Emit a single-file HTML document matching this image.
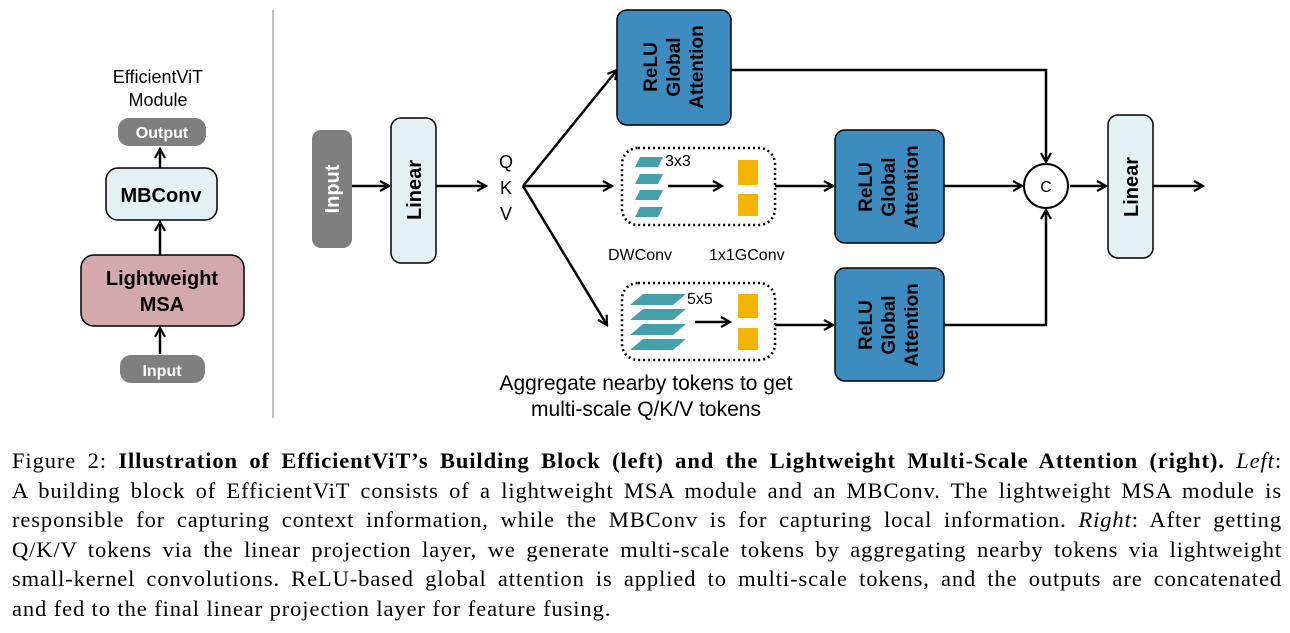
<!DOCTYPE html><html><head><meta charset="utf-8"><style>
body{margin:0;background:#fff;width:1290px;height:633px;overflow:hidden;position:relative}
svg{position:absolute;left:0;top:0}
.cap{position:absolute;left:12px;top:446px;width:1270px;font-family:"Liberation Serif",serif;font-size:22.5px;letter-spacing:0.9px;line-height:29.5px;color:#000}
.cap div{text-align:justify;text-align-last:justify;white-space:nowrap}
.cap div.l{text-align-last:left}
</style></head><body>
<svg width="1290" height="440" viewBox="0 0 1290 440" font-family="Liberation Sans, sans-serif">
<defs><marker id="a" markerWidth="12" markerHeight="12" refX="10" refY="6" orient="auto" markerUnits="userSpaceOnUse"><path d="M1,1 L10,6 L1,11" fill="none" stroke="#000" stroke-width="2.2"/></marker></defs>
<g stroke="#000" stroke-width="2.5" fill="none" marker-end="url(#a)">
<line x1="160" y1="168" x2="160" y2="149"/><line x1="160" y1="255" x2="160" y2="222"/><line x1="160" y1="354" x2="160" y2="328"/>
<line x1="352" y1="186" x2="389" y2="186"/><line x1="436" y1="186" x2="486" y2="186"/>
<line x1="523" y1="186" x2="617" y2="70"/><line x1="523" y1="186" x2="612" y2="186"/><line x1="523" y1="186" x2="607" y2="325"/>
<polyline points="731,70 1046,70 1046,162"/><polyline points="944,325 1046,325 1046,210"/>
<line x1="775" y1="186" x2="833" y2="186"/><line x1="775" y1="325" x2="833" y2="325"/>
<line x1="944" y1="186" x2="1022" y2="186"/><line x1="1070" y1="186" x2="1106" y2="186"/><line x1="1153" y1="186" x2="1203" y2="186"/>
<line x1="668" y1="186" x2="722" y2="186"/><line x1="695" y1="322" x2="730" y2="322"/>
</g>
<line x1="273" y1="10" x2="273" y2="418" stroke="#aaa" stroke-width="1.5"/>
<text x="158" y="83" font-size="18" text-anchor="middle">EfficientViT</text>
<text x="158" y="106" font-size="18" text-anchor="middle">Module</text>
<rect x="118" y="118" width="88" height="28" rx="11" fill="#7f7f7f"/>
<text x="162" y="138" font-size="16" font-weight="bold" fill="#fff" text-anchor="middle">Output</text>
<rect x="106" y="168" width="111" height="52" rx="12" fill="#e3f1f5" stroke="#000" stroke-width="1.5"/>
<text x="161" y="202" font-size="20" font-weight="bold" text-anchor="middle">MBConv</text>
<rect x="81" y="255" width="163" height="71" rx="13" fill="#d4a9ae" stroke="#000" stroke-width="1.5"/>
<text x="162" y="285" font-size="20" font-weight="bold" text-anchor="middle">Lightweight</text>
<text x="162" y="311" font-size="20" font-weight="bold" text-anchor="middle">MSA</text>
<rect x="120" y="355" width="85" height="28" rx="11" fill="#7f7f7f"/>
<text x="162" y="376" font-size="16" font-weight="bold" fill="#fff" text-anchor="middle">Input</text>
<rect x="312" y="130" width="40" height="118" rx="9" fill="#7f7f7f"/>
<text transform="translate(339,189) rotate(-90)" font-size="20" font-weight="bold" fill="#fff" text-anchor="middle">Input</text>
<rect x="391" y="118" width="45" height="145" rx="10" fill="#e3f1f5" stroke="#000" stroke-width="1.5"/>
<text transform="translate(421,190) rotate(-90)" font-size="20" font-weight="bold" text-anchor="middle">Linear</text>
<rect x="1108" y="115" width="45" height="143" rx="10" fill="#e3f1f5" stroke="#000" stroke-width="1.5"/>
<text transform="translate(1138,187) rotate(-90)" font-size="20" font-weight="bold" text-anchor="middle">Linear</text>
<text x="506" y="168" font-size="18" text-anchor="middle">Q</text>
<text x="506" y="194" font-size="18" text-anchor="middle">K</text>
<text x="506" y="220" font-size="18" text-anchor="middle">V</text>
<g fill="#3e8cbf" stroke="#000" stroke-width="1.5">
<rect x="617" y="10" width="114" height="115" rx="10"/><rect x="835" y="130" width="109" height="113" rx="10"/><rect x="835" y="268" width="109" height="113" rx="10"/></g>
<g font-size="19" font-weight="bold" text-anchor="middle">
<g transform="translate(674,67) rotate(-90)"><text x="0" y="-17">ReLU</text><text x="0" y="6">Global</text><text x="0" y="29">Attention</text></g>
<g transform="translate(889,187) rotate(-90)"><text x="0" y="-17">ReLU</text><text x="0" y="6">Global</text><text x="0" y="29">Attention</text></g>
<g transform="translate(889,325) rotate(-90)"><text x="0" y="-17">ReLU</text><text x="0" y="6">Global</text><text x="0" y="29">Attention</text></g></g>
<rect x="622" y="148" width="153" height="77" rx="16" fill="none" stroke="#000" stroke-width="2.5" stroke-dasharray="2,3"/>
<rect x="622" y="283" width="153" height="77" rx="16" fill="none" stroke="#000" stroke-width="2.5" stroke-dasharray="2,3"/>
<g fill="#46a0ac">
<polygon points="640,157 663,157 658,167 635,167"/><polygon points="640,174 663,174 658,184 635,184"/><polygon points="640,190 663,190 658,200 635,200"/><polygon points="640,207 663,207 658,217 635,217"/>
<polygon points="643,294 686,294 673,305 630,305"/><polygon points="643,309 686,309 673,320 630,320"/><polygon points="643,324 686,324 673,335 630,335"/><polygon points="643,339 686,339 673,350 630,350"/></g>
<g fill="#f5b400"><rect x="738" y="160" width="20" height="25"/><rect x="738" y="194" width="20" height="22"/><rect x="738" y="294" width="20" height="24"/><rect x="738" y="328" width="20" height="22"/></g>
<text x="665" y="166" font-size="16">3x3</text><text x="687" y="304" font-size="16">5x5</text>
<text x="608" y="260" font-size="16">DWConv</text><text x="709" y="260" font-size="16">1x1GConv</text>
<text x="646" y="390" font-size="21" text-anchor="middle">Aggregate nearby tokens to get</text>
<text x="646" y="416" font-size="21" text-anchor="middle">multi-scale Q/K/V tokens</text>
<circle cx="1046" cy="186" r="22" fill="#fff" stroke="#000" stroke-width="2"/>
<text x="1046" y="192" font-size="16" text-anchor="middle">C</text>
</svg>
<div class="cap">
<div>Figure 2: <b>Illustration of EfficientViT’s Building Block (left) and the Lightweight Multi-Scale Attention (right).</b> <i>Left</i>:</div>
<div>A building block of EfficientViT consists of a lightweight MSA module and an MBConv. The lightweight MSA module is</div>
<div>responsible for capturing context information, while the MBConv is for capturing local information. <i>Right</i>: After getting</div>
<div>Q/K/V tokens via the linear projection layer, we generate multi-scale tokens by aggregating nearby tokens via lightweight</div>
<div>small-kernel convolutions. ReLU-based global attention is applied to multi-scale tokens, and the outputs are concatenated</div>
<div class="l">and fed to the final linear projection layer for feature fusing.</div>
</div>
</body></html>
